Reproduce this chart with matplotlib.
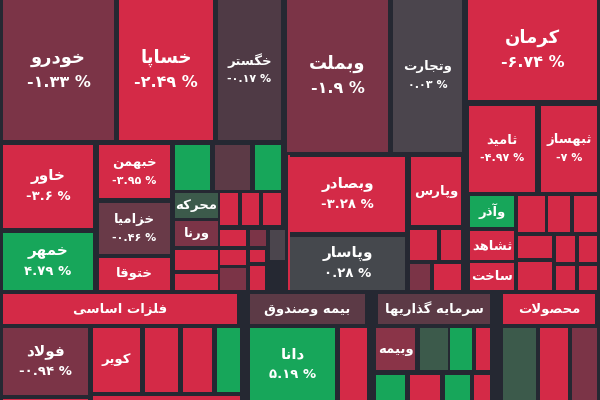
import matplotlib.pyplot as plt
from matplotlib.patches import Rectangle

# simple persian shaping (no arabic_reshaper available)
FORMS = {
    'ا': ('\uFE8D', '\uFE8E', None, None), 'آ': ('\uFE81', '\uFE82', None, None),
    'ب': ('\uFE8F', '\uFE90', '\uFE91', '\uFE92'), 'پ': ('\uFB56', '\uFB57', '\uFB58', '\uFB59'),
    'ت': ('\uFE95', '\uFE96', '\uFE97', '\uFE98'), 'ث': ('\uFE99', '\uFE9A', '\uFE9B', '\uFE9C'),
    'ج': ('\uFE9D', '\uFE9E', '\uFE9F', '\uFEA0'), 'ح': ('\uFEA1', '\uFEA2', '\uFEA3', '\uFEA4'),
    'خ': ('\uFEA5', '\uFEA6', '\uFEA7', '\uFEA8'), 'د': ('\uFEA9', '\uFEAA', None, None),
    'ذ': ('\uFEAB', '\uFEAC', None, None), 'ر': ('\uFEAD', '\uFEAE', None, None),
    'ز': ('\uFEAF', '\uFEB0', None, None), 'س': ('\uFEB1', '\uFEB2', '\uFEB3', '\uFEB4'),
    'ش': ('\uFEB5', '\uFEB6', '\uFEB7', '\uFEB8'), 'ص': ('\uFEB9', '\uFEBA', '\uFEBB', '\uFEBC'),
    'ط': ('\uFEC1', '\uFEC2', '\uFEC3', '\uFEC4'), 'ف': ('\uFED1', '\uFED2', '\uFED3', '\uFED4'),
    'ق': ('\uFED5', '\uFED6', '\uFED7', '\uFED8'), 'ک': ('\uFB8E', '\uFB8F', '\uFB90', '\uFB91'),
    'گ': ('\uFB92', '\uFB93', '\uFB94', '\uFB95'), 'ل': ('\uFEDD', '\uFEDE', '\uFEDF', '\uFEE0'),
    'م': ('\uFEE1', '\uFEE2', '\uFEE3', '\uFEE4'), 'ن': ('\uFEE5', '\uFEE6', '\uFEE7', '\uFEE8'),
    'ه': ('\uFEE9', '\uFEEA', '\uFEEB', '\uFEEC'), 'و': ('\uFEED', '\uFEEE', None, None),
    'ی': ('\uFBFC', '\uFBFD', '\uFBFE', '\uFBFF'), '\uFEFB': ('\uFEFB', '\uFEFC', None, None),
}


def shape(s):
    s = s.replace('لا', '\uFEFB')
    out = []
    for i, c in enumerate(s):
        if c not in FORMS:
            out.append(c)
            continue
        p = s[i - 1] if i > 0 else ''
        n = s[i + 1] if i + 1 < len(s) else ''
        jp = p in FORMS and FORMS[p][2] is not None
        jn = n in FORMS and FORMS[c][2] is not None
        iso, fin, ini, med = FORMS[c]
        out.append(med if jp and jn else fin if jp else ini if jn else iso)
    return ''.join(reversed(out))


def fa_num(s):
    return s.translate(str.maketrans('0123456789', '۰۱۲۳۴۵۶۷۸۹'))


RED, MAR, GRY, GRN, DGN, DMR = '#d42a47', '#7b3447', '#4b454d', '#17a65a', '#3c5a4b', '#5c3a46'

# tiles: label, percent text, (x0, y0, x1, y1) in pixel space, colour
tile_names = ['خودرو', 'خساپا', 'خگستر', 'وبملت', 'وتجارت', 'کرمان', 'ثامید', 'ثبهساز',
              'خاور', 'خمهر', 'خبهمن', 'خزامیا', 'ختوقا', 'محرکه', 'ورنا',
              'وبصادر', 'وپارس', 'وپاسار', 'وآذر', 'ثشاهد', 'ساخت',
              'فلزات اساسی', 'فولاد', 'کویر', 'بیمه وصندوق', 'دانا',
              'سرمایه گذاریها', 'وبیمه', 'محصولات']
tile_pct = ['-1.33 %', '-2.49 %', '-0.17 %', '-1.9 %', '0.03 %', '-6.74 %', '-4.97 %', '-7 %',
            '-3.6 %', '4.79 %', '-3.95 %', '-0.46 %', '', '', '',
            '-3.28 %', '', '0.28 %', '', '', '',
            '', '-0.94 %', '', '', '5.19 %',
            '', '', '']
tile_box = [(3, 0, 114, 140), (119, 0, 213, 140), (218, 0, 281, 140), (287, 0, 388, 152),
            (393, 0, 462, 152), (468, 0, 597, 100), (469, 106, 535, 192), (541, 106, 597, 192),
            (3, 145, 93, 228), (3, 233, 93, 290), (99, 145, 170, 198), (99, 203, 170, 254),
            (99, 258, 170, 290), (175, 193, 218, 218), (175, 221, 218, 246),
            (290, 157, 405, 232), (411, 157, 461, 225), (290, 237, 405, 290),
            (470, 196, 514, 227), (470, 231, 514, 260), (470, 263, 514, 290),
            (3, 294, 237, 324), (3, 328, 88, 395), (93, 328, 140, 392),
            (250, 294, 365, 324), (250, 328, 335, 400),
            (378, 294, 490, 324), (376, 328, 415, 370), (503, 294, 595, 324)]
tile_color = [MAR, RED, '#4f3a45', MAR, GRY, RED, RED, RED,
              RED, GRN, RED, '#693a48', RED, DGN, MAR,
              RED, RED, '#45484d', GRN, RED, RED,
              RED, MAR, RED, DMR, GRN,
              DMR, '#8a3448', RED]

# unlabeled small tiles
small_box = [(288, 155, 290, 290), (175, 145, 210, 190), (215, 145, 250, 190), (255, 145, 281, 190),
             (220, 193, 238, 225), (242, 193, 259, 225), (263, 193, 281, 225),
             (220, 230, 246, 246), (250, 230, 266, 246), (270, 230, 285, 260),
             (175, 250, 218, 270), (175, 274, 218, 290), (220, 250, 246, 265),
             (220, 268, 246, 290), (250, 250, 265, 262), (250, 266, 265, 290),
             (410, 230, 437, 260), (441, 230, 461, 260), (410, 264, 430, 290), (434, 264, 461, 290),
             (518, 196, 545, 232), (548, 196, 570, 232), (574, 196, 597, 232),
             (518, 236, 552, 258), (556, 236, 575, 262), (579, 236, 597, 262),
             (518, 262, 552, 290), (556, 266, 575, 290), (579, 266, 597, 290),
             (145, 328, 178, 392), (183, 328, 212, 392), (217, 328, 240, 392),
             (3, 399, 88, 400), (93, 396, 240, 400), (340, 328, 367, 400),
             (420, 328, 448, 370), (450, 328, 472, 370), (476, 328, 490, 370),
             (376, 375, 405, 400), (410, 375, 440, 400), (445, 375, 470, 400), (474, 375, 490, 400),
             (503, 328, 536, 400), (540, 328, 568, 400), (572, 328, 597, 400)]
small_color = [RED, GRN, DMR, GRN,
               RED, RED, RED,
               RED, MAR, GRY,
               RED, RED, RED,
               MAR, RED, RED,
               RED, RED, MAR, RED,
               RED, RED, RED,
               RED, RED, RED,
               RED, RED, RED,
               RED, RED, GRN,
               RED, RED, RED,
               DGN, GRN, RED,
               GRN, RED, GRN, RED,
               DGN, RED, MAR]

fig = plt.figure(figsize=(6, 4), dpi=100)
ax = fig.add_axes([0, 0, 1, 1])
ax.set_xlim(0, 600)
ax.set_ylim(400, 0)
ax.axis('off')
fig.patch.set_facecolor('#252832')
ax.add_patch(Rectangle((0, 0), 600, 400, color='#252832'))

for (x0, y0, x1, y1), c in zip(small_box, small_color):
    ax.add_patch(Rectangle((x0, y0), x1 - x0, y1 - y0, color=c, lw=0))

for name, pct, (x0, y0, x1, y1), c in zip(tile_names, tile_pct, tile_box, tile_color):
    ax.add_patch(Rectangle((x0, y0), x1 - x0, y1 - y0, color=c, lw=0))
    w, h = x1 - x0, y1 - y0
    fs = 13 if w > 90 and h > 90 else 11 if w > 80 and h > 50 else 9.5
    cx, cy = (x0 + x1) / 2, (y0 + y1) / 2
    if pct:
        gap = fs * 0.95
        ax.text(cx, cy - gap, shape(name), color='white', ha='center', va='center',
                fontsize=fs, fontweight='bold', family=['DejaVu Sans'])
        ax.text(cx, cy + gap, fa_num(pct), color='white', ha='center', va='center',
                fontsize=fs - 1.5, fontweight='bold', family=['DejaVu Sans'])
    else:
        ax.text(cx, cy, shape(name), color='white', ha='center', va='center',
                fontsize=fs, fontweight='bold', family=['DejaVu Sans'])

fig.savefig('out.png', dpi=100, facecolor=fig.get_facecolor())
